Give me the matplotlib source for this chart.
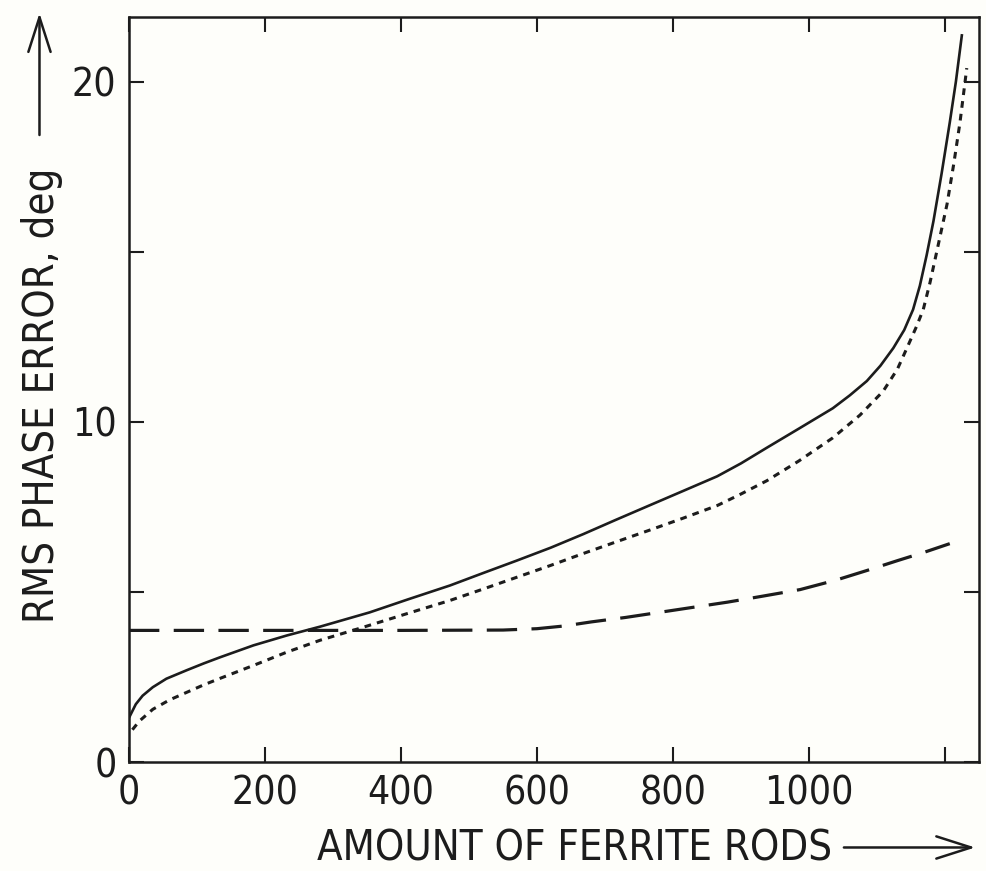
import matplotlib
matplotlib.use('Agg')
import matplotlib.pyplot as plt

plt.rcParams['font.family'] = ['DejaVu Sans']
plt.rcParams['font.stretch'] = 'condensed'

# phase error vs ferrite loading
solid_x = [0, 10, 20, 35, 55, 85, 110, 134, 183, 232, 281, 354, 410, 472,
           520, 570, 620, 668, 716, 766, 815, 865, 900, 938, 985, 1035,
           1060, 1085, 1105, 1124, 1140, 1153, 1163, 1173, 1183, 1195,
           1207, 1216, 1225]
solid_y = [1.3, 1.7, 1.95, 2.2, 2.45, 2.7, 2.9, 3.08, 3.43, 3.72, 3.98, 4.4,
           4.78, 5.19, 5.55, 5.92, 6.3, 6.7, 7.12, 7.55, 7.97, 8.4, 8.78,
           9.24, 9.8, 10.4, 10.78, 11.2, 11.65, 12.17, 12.7, 13.3, 14.0,
           14.9, 15.9, 17.3, 18.8, 20.0, 21.4]

dotted_x = [5, 15, 35, 60, 85, 110, 134, 183, 232, 281, 344, 410, 472, 520,
            570, 620, 668, 716, 766, 815, 865, 900, 938, 985, 1035, 1075,
            1109, 1130, 1144, 1158, 1168, 1178, 1190, 1203, 1213, 1222, 1232]
dotted_y = [0.95, 1.2, 1.55, 1.83, 2.05, 2.27, 2.46, 2.84, 3.23, 3.58, 3.96,
            4.37, 4.75, 5.08, 5.43, 5.78, 6.13, 6.47, 6.82, 7.17, 7.54, 7.88,
            8.27, 8.85, 9.53, 10.2, 10.9, 11.55, 12.17, 12.8, 13.3, 14.1,
            15.2, 16.4, 17.6, 18.8, 20.4]

dashed_x = [0, 200, 400, 550, 600, 640, 680, 730, 780, 830, 880, 930, 987,
            1040, 1085, 1130, 1170, 1207]
dashed_y = [3.87, 3.87, 3.87, 3.88, 3.92, 4.0, 4.12, 4.25, 4.4, 4.55, 4.7,
            4.87, 5.07, 5.35, 5.63, 5.92, 6.17, 6.42]

xticks = [0, 200, 400, 600, 800, 1000, 1200]
xticklabels = ['0', '200', '400', '600', '800', '1000', '']
yticks = [0, 5, 10, 15, 20]
yticklabels = ['0', '', '10', '', '20']

ink = '#1c1c1c'
bg = '#fefefa'

fig = plt.figure(figsize=(9.87, 8.71), dpi=100, facecolor=bg)
ax = fig.add_axes([0.1307, 0.1251, 0.8612, 0.8553], facecolor=bg)

ax.plot(solid_x, solid_y, color=ink, lw=1.9, solid_capstyle='butt')
ax.plot(dotted_x, dotted_y, color=ink, lw=2.2, linestyle=(0, (2.2, 2.0)))
ax.plot(dashed_x, dashed_y, color=ink, lw=2.3, linestyle=(0, (9.5, 4.5)))

ax.set_xlim(0, 1250)
ax.set_ylim(0, 21.9)
ax.set_xticks(xticks)
ax.set_xticklabels(xticklabels)
ax.set_yticks(yticks)
ax.set_yticklabels(yticklabels)
ax.tick_params(direction='in', length=11, width=1.5, colors=ink,
               labelsize=28, pad=9, top=True, right=True)
for s in ax.spines.values():
    s.set_linewidth(1.8)
    s.set_color(ink)

# axis captions with open arrows
fig.text(0.582, 0.026, 'AMOUNT OF FERRITE RODS', fontsize=30, color=ink,
         ha='center', va='center')
fig.text(0.043, 0.546, 'RMS PHASE ERROR, deg', fontsize=30, color=ink,
         ha='center', va='center', rotation=90)
arrow = dict(arrowstyle='->,head_length=2.5,head_width=0.8', lw=1.8,
             color=ink, shrinkA=0, shrinkB=0)
ax.annotate('', xy=(0.988, 0.027), xytext=(0.855, 0.027),
            xycoords='figure fraction', arrowprops=arrow)
ax.annotate('', xy=(0.040, 0.985), xytext=(0.040, 0.845),
            xycoords='figure fraction', arrowprops=arrow)

fig.savefig('out.png', dpi=100, facecolor=bg)
